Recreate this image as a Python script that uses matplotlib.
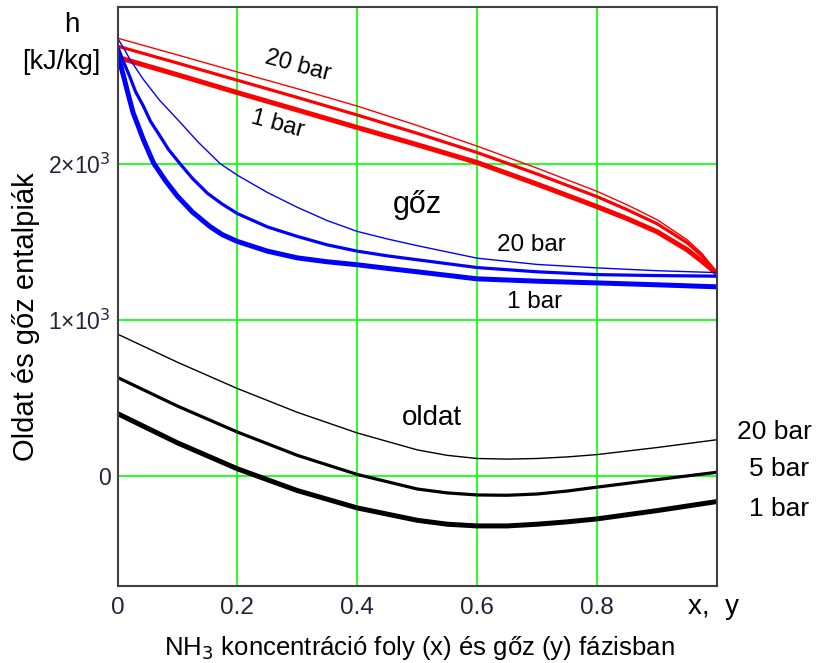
import numpy as np
import matplotlib
matplotlib.use("Agg")
import matplotlib.pyplot as plt

plt.rcParams["font.family"] = ["Liberation Sans", "DejaVu Sans"]

# vapour enthalpy (red) vs y, three pressures
red_x = [0.0, 0.1, 0.2, 0.3, 0.4, 0.5, 0.6, 0.7, 0.8, 0.85, 0.9, 0.95, 0.975, 1.0]
red_20 = [2801, 2694, 2585, 2478, 2367, 2243, 2111, 1970, 1822, 1736, 1641, 1513, 1425, 1301]
red_5 = [2750, 2642, 2532, 2422, 2310, 2193, 2070, 1933, 1788, 1705, 1615, 1494, 1410, 1301]
red_1 = [2679, 2567, 2453, 2342, 2230, 2120, 2006, 1868, 1724, 1648, 1564, 1449, 1375, 1295]

# blue curves vs x
blue20_x = [0.0, 0.01, 0.02, 0.043, 0.07, 0.1, 0.135, 0.171, 0.2, 0.25, 0.3, 0.35,
            0.4, 0.45, 0.5, 0.6, 0.7, 0.8, 0.9, 1.0]
blue20_y = [2801, 2740, 2670, 2538, 2405, 2282, 2135, 2000, 1925, 1815, 1720, 1635,
            1566, 1518, 1475, 1395, 1355, 1333, 1315, 1303]
blue5_x = [0.0, 0.01, 0.02, 0.03, 0.043, 0.055, 0.071, 0.085, 0.104, 0.125, 0.15, 0.175,
           0.2, 0.25, 0.3, 0.35, 0.4, 0.45, 0.5, 0.6, 0.7, 0.8, 0.9, 1.0]
blue5_y = [2750, 2650, 2560, 2460, 2368, 2270, 2175, 2090, 2000, 1905, 1810, 1740,
           1680, 1595, 1534, 1480, 1440, 1410, 1385, 1335, 1308, 1290, 1284, 1280]
blue1_x = [0.0, 0.005, 0.01, 0.018, 0.026, 0.035, 0.043, 0.06, 0.08, 0.1, 0.125, 0.154,
           0.175, 0.2, 0.25, 0.3, 0.35, 0.4, 0.45, 0.5, 0.6, 0.7, 0.8, 0.9, 1.0]
blue1_y = [2679, 2630, 2560, 2440, 2325, 2235, 2154, 2004, 1890, 1791, 1690, 1598,
           1545, 1502, 1440, 1397, 1372, 1353, 1330, 1308, 1263, 1248, 1237, 1225, 1212]

# liquid enthalpy (black)
blk_x = [0.0, 0.1, 0.2, 0.3, 0.4, 0.5, 0.55, 0.6, 0.65, 0.7, 0.75, 0.8, 0.9, 1.0]
blk_20 = [910, 730, 562, 410, 278, 170, 135, 115, 111, 115, 125, 140, 185, 235]
blk_5 = [633, 450, 284, 135, 13, -80, -105, -118, -120, -112, -93, -68, -20, 27]
blk_1 = [402, 215, 49, -90, -201, -280, -305, -316, -316, -305, -290, -271, -218, -160]

x_ticks = [0, 0.2, 0.4, 0.6, 0.8]
x_tick_labels = ["0", "0.2", "0.4", "0.6", "0.8"]
y_ticks = [0, 1000, 2000]
y_tick_labels = ["0", "1×10$^3$", "2×10$^3$"]

fig = plt.figure(figsize=(8.16, 6.63), dpi=100)
ax = fig.add_axes([0.1440, 0.1161, 0.8787 - 0.1440, 0.9894 - 0.1161])

lw_thin, lw_mid, lw_thick = 1.0, 2.3, 3.6

ax.plot(red_x, red_20, color="red", lw=lw_thin)
ax.plot(red_x, red_5, color="red", lw=lw_mid)
ax.plot(red_x, red_1, color="red", lw=lw_thick)

ax.plot(blue20_x, blue20_y, color="blue", lw=lw_thin)
ax.plot(blue5_x, blue5_y, color="blue", lw=lw_mid)
ax.plot(blue1_x, blue1_y, color="blue", lw=lw_thick)

ax.plot(blk_x, blk_20, color="black", lw=lw_thin)
ax.plot(blk_x, blk_5, color="black", lw=lw_mid)
ax.plot(blk_x, blk_1, color="black", lw=lw_thick)

ax.set_xlim(0, 1)
ax.set_ylim(-700, 3000)
ax.set_xticks(x_ticks)
ax.set_xticklabels(x_tick_labels)
ax.set_yticks(y_ticks)
ax.set_yticklabels(y_tick_labels)
ax.tick_params(length=0, labelcolor="#222238")
ax.tick_params(axis="x", labelsize=17.5, pad=8)
ax.tick_params(axis="y", labelsize=16.5, pad=5)
ax.grid(True, color="#00ff00", lw=1.2)
ax.set_axisbelow(True)
for s in ax.spines.values():
    s.set_color("#404040")
    s.set_linewidth(1.5)

ax.set_ylabel("Oldat és gőz entalpiák", fontsize=21)
ax.yaxis.set_label_coords(-0.130, 0.466)
ax.set_xlabel("NH$_3$ koncentráció foly (x) és gőz (y) fázisban", fontsize=18.5, va="center")
ax.xaxis.set_label_coords(0.504, -0.107)

fig.text(72 / 816, 1 - 25 / 663, "h", fontsize=20, ha="center", va="center")
fig.text(61 / 816, 1 - 62 / 663, "[kJ/kg]", fontsize=19.5, ha="center", va="center")
fig.text(714 / 816, 1 - 607 / 663, "x,  y", fontsize=20, ha="center", va="center")

ax.text(0.301, 2625, "20 bar", fontsize=17, rotation=-15, ha="center", va="center")
ax.text(0.267, 2250, "1 bar", fontsize=17, rotation=-15, ha="center", va="center")
ax.text(0.5, 1737, "gőz", fontsize=22, ha="center", va="center")
ax.text(0.69, 1481, "20 bar", fontsize=17.5, ha="center", va="center")
ax.text(0.696, 1115, "1 bar", fontsize=17.5, ha="center", va="center")
ax.text(0.524, 372, "oldat", fontsize=20, ha="center", va="center")
ax.text(1.096, 282, "20 bar", fontsize=19, ha="center", va="center", clip_on=False)
ax.text(1.104, 45, "5 bar", fontsize=19, ha="center", va="center", clip_on=False)
ax.text(1.104, -205, "1 bar", fontsize=19, ha="center", va="center", clip_on=False)

fig.savefig("out.png", dpi=100)
